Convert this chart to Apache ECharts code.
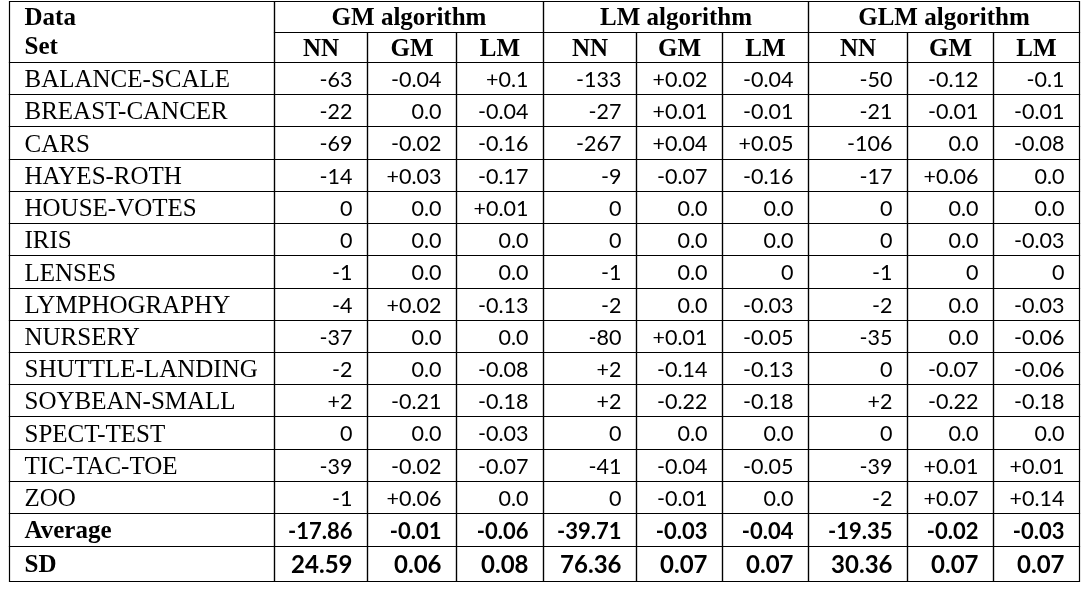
<!DOCTYPE html>
<html><head><meta charset="utf-8">
<script src="https://cdn.jsdelivr.net/npm/echarts@6/dist/echarts.min.js"></script>
<style>html,body{margin:0;padding:0;background:#fff}#c{width:1088px;height:593px}</style>
</head><body><div id="c"></div>
<script>
// ---------- data ----------
const cornerLabel = 'Data\nSet';
const groupHeaders = ['GM algorithm', 'LM algorithm', 'GLM algorithm'];
const subHeaders = ['NN', 'GM', 'LM'];
const dataSets = ['BALANCE-SCALE', 'BREAST-CANCER', 'CARS', 'HAYES-ROTH', 'HOUSE-VOTES', 'IRIS', 'LENSES',
  'LYMPHOGRAPHY', 'NURSERY', 'SHUTTLE-LANDING', 'SOYBEAN-SMALL', 'SPECT-TEST', 'TIC-TAC-TOE', 'ZOO'];
const gmNN  = ['-63', '-22', '-69', '-14', '0', '0', '-1', '-4', '-37', '-2', '+2', '0', '-39', '-1'];
const gmGM  = ['-0.04', '0.0', '-0.02', '+0.03', '0.0', '0.0', '0.0', '+0.02', '0.0', '0.0', '-0.21', '0.0', '-0.02', '+0.06'];
const gmLM  = ['+0.1', '-0.04', '-0.16', '-0.17', '+0.01', '0.0', '0.0', '-0.13', '0.0', '-0.08', '-0.18', '-0.03', '-0.07', '0.0'];
const lmNN  = ['-133', '-27', '-267', '-9', '0', '0', '-1', '-2', '-80', '+2', '+2', '0', '-41', '0'];
const lmGM  = ['+0.02', '+0.01', '+0.04', '-0.07', '0.0', '0.0', '0.0', '0.0', '+0.01', '-0.14', '-0.22', '0.0', '-0.04', '-0.01'];
const lmLM  = ['-0.04', '-0.01', '+0.05', '-0.16', '0.0', '0.0', '0', '-0.03', '-0.05', '-0.13', '-0.18', '0.0', '-0.05', '0.0'];
const glmNN = ['-50', '-21', '-106', '-17', '0', '0', '-1', '-2', '-35', '0', '+2', '0', '-39', '-2'];
const glmGM = ['-0.12', '-0.01', '0.0', '+0.06', '0.0', '0.0', '0', '0.0', '0.0', '-0.07', '-0.22', '0.0', '+0.01', '+0.07'];
const glmLM = ['-0.1', '-0.01', '-0.08', '0.0', '0.0', '-0.03', '0', '-0.03', '-0.06', '-0.06', '-0.18', '0.0', '+0.01', '+0.14'];
const averageLabel = 'Average';
const averageRow = ['-17.86', '-0.01', '-0.06', '-39.71', '-0.03', '-0.04', '-19.35', '-0.02', '-0.03'];
const sdLabel = 'SD';
const sdRow = ['24.59', '0.06', '0.08', '76.36', '0.07', '0.07', '30.36', '0.07', '0.07'];

// ---------- layout (relative units) ----------
const colWidths = [265, 93, 89, 87, 93, 86, 86, 99, 86, 86];
const rowHeights = [31, 30].concat(new Array(14).fill(32.25)).concat([33, 35]);
const colEdges = [0]; colWidths.forEach(w => colEdges.push(colEdges[colEdges.length - 1] + w));
const rowEdges = [0]; rowHeights.forEach(h => rowEdges.push(rowEdges[rowEdges.length - 1] + h));

const SERIF = '"Liberation Serif", "Times New Roman", serif';
const SANS = 'Lato, "Open Sans", sans-serif';
const styles = {
  corner: { font: 'bold 25px ' + SERIF, align: 'left', lineHeight: 29, dy: 1.5 },
  group:  { font: 'bold 25px ' + SERIF, align: 'center', dy: 2 },
  sub:    { font: 'bold 25px ' + SERIF, align: 'center', dy: 2 },
  name:   { font: '25px ' + SERIF, align: 'left', dy: 2 },
  num:    { font: '21.5px ' + SANS, align: 'right', dy: 1.5 },
  avgLab: { font: 'bold 25px ' + SERIF, align: 'left', dy: 2 },
  avgNum: { font: 'bold 22px ' + SANS, align: 'right', dy: 1.5 },
  sdLab:  { font: 'bold 25px ' + SERIF, align: 'left', dy: 2 },
  sdNum:  { font: 'bold 24px ' + SANS, align: 'right', dy: 1.5 }
};

// ---------- cells ----------
const cells = [];
cells.push({ c: 0, r: 0, cs: 1, rs: 2, text: cornerLabel, st: 'corner' });
groupHeaders.forEach((g, i) => cells.push({ c: 1 + i * 3, r: 0, cs: 3, rs: 1, text: g, st: 'group' }));
for (let i = 0; i < 9; i++) cells.push({ c: 1 + i, r: 1, cs: 1, rs: 1, text: subHeaders[i % 3], st: 'sub' });
const cols = [gmNN, gmGM, gmLM, lmNN, lmGM, lmLM, glmNN, glmGM, glmLM];
dataSets.forEach((name, ri) => {
  cells.push({ c: 0, r: 2 + ri, cs: 1, rs: 1, text: name, st: 'name' });
  cols.forEach((col, ci) => cells.push({ c: 1 + ci, r: 2 + ri, cs: 1, rs: 1, text: col[ri], st: 'num' }));
});
const avgR = 2 + dataSets.length;
cells.push({ c: 0, r: avgR, cs: 1, rs: 1, text: averageLabel, st: 'avgLab' });
averageRow.forEach((v, ci) => cells.push({ c: 1 + ci, r: avgR, cs: 1, rs: 1, text: v, st: 'avgNum' }));
cells.push({ c: 0, r: avgR + 1, cs: 1, rs: 1, text: sdLabel, st: 'sdLab' });
sdRow.forEach((v, ci) => cells.push({ c: 1 + ci, r: avgR + 1, cs: 1, rs: 1, text: v, st: 'sdNum' }));

const chart = echarts.init(document.getElementById('c'), null, { renderer: 'canvas' });
chart.setOption({
  backgroundColor: '#fff',
  animation: false,
  grid: { left: 9, right: 9, top: 1, bottom: 12, containLabel: false, outerBoundsMode: 'none' },
  xAxis: { type: 'value', min: 0, max: colEdges[colEdges.length - 1], show: false },
  yAxis: { type: 'value', min: 0, max: rowEdges[rowEdges.length - 1], inverse: true, show: false },
  series: [{
    type: 'custom',
    coordinateSystem: 'cartesian2d',
    silent: true,
    clip: false,
    data: cells.map(c => [colEdges[c.c], rowEdges[c.r]]),
    renderItem: function (params, api) {
      const cell = cells[params.dataIndex];
      const st = styles[cell.st];
      const p0 = api.coord([colEdges[cell.c], rowEdges[cell.r]]);
      const p1 = api.coord([colEdges[cell.c + cell.cs], rowEdges[cell.r + cell.rs]]);
      const x0 = Math.round(p0[0]) + 0.5, y0 = Math.round(p0[1]) + 0.5;
      const x1 = Math.round(p1[0]) + 0.5, y1 = Math.round(p1[1]) + 0.5;
      let tx;
      if (st.align === 'left') tx = x0 + 15;
      else if (st.align === 'right') tx = x1 - 15;
      else tx = (x0 + x1) / 2;
      const ty = (y0 + y1) / 2 + (st.dy || 0);
      return {
        type: 'group',
        children: [
          { type: 'rect', shape: { x: x0, y: y0, width: x1 - x0, height: y1 - y0 },
            style: { fill: 'none', stroke: '#000', lineWidth: 1.2 } },
          { type: 'text', style: { text: cell.text, x: tx, y: ty, font: st.font, fill: '#000',
            align: st.align, verticalAlign: 'middle', lineHeight: st.lineHeight } }
        ]
      };
    }
  }]
});
</script>
</body></html>
